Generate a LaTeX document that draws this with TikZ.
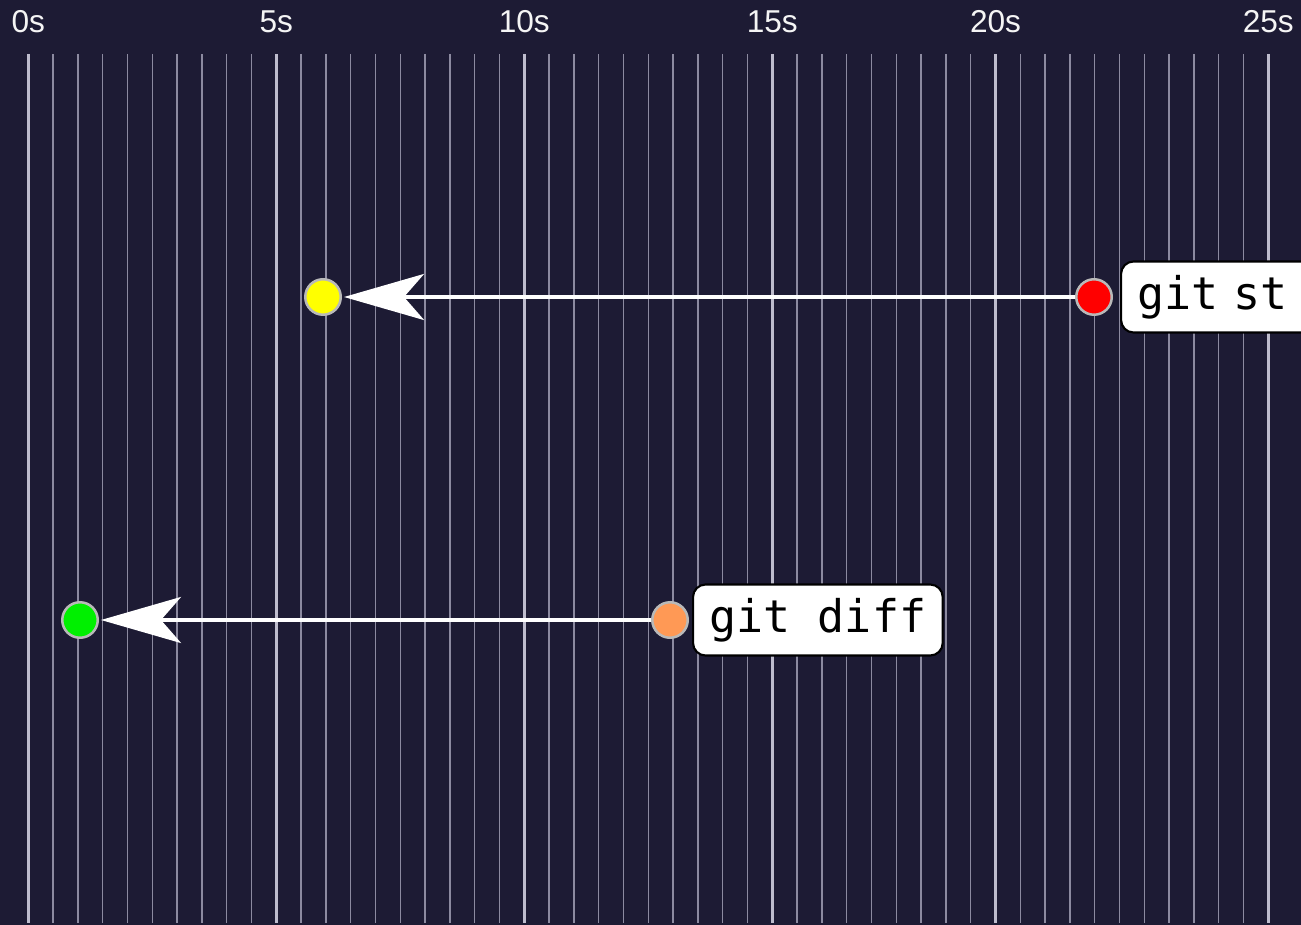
\documentclass[tikz,border=0pt]{standalone}
\usepackage{fontspec}
\setmainfont{Liberation Sans}
\setmonofont{DejaVu Sans Mono}
\usetikzlibrary{arrows.meta}
\definecolor{bgnavy}{RGB}{29,27,52}
\definecolor{gridminor}{RGB}{140,138,160}
\definecolor{gridmajor}{RGB}{190,188,205}
\definecolor{evyellow}{RGB}{255,255,0}
\definecolor{evred}{RGB}{255,0,0}
\definecolor{evgreen}{RGB}{0,240,0}
\definecolor{evorange}{RGB}{255,153,85}

\begin{document}
\begin{tikzpicture}[
  x=0.02cm, y=-0.02cm,
  event/.style={circle, draw=white!45!gray, line width=0.05cm, minimum size=0.71cm, inner sep=0pt},
  tick label/.style={text=white!92!gray, font=\fontsize{18}{20}\selectfont},
  cmd/.style={rectangle, rounded corners=0.25cm, draw=black, line width=1.2pt, fill=white,
    minimum height=1.42cm, inner xsep=0.33cm, anchor=west, font=\ttfamily\fontsize{25.6}{30}\selectfont},
  jump/.style={draw=white, line width=0.08cm, -{Stealth[length=1.6cm, width=0.92cm, inset=0.4cm]}, shorten >=0.04cm}
]

% Background
\fill[bgnavy] (0,0) rectangle (1301,925);
\clip (0,0) rectangle (1301,925);

% Grid, every half second
\foreach \i in {0,...,50}
  \draw[gridminor, line width=0.03cm] ({28.3+24.8*\i},54) -- ({28.3+24.8*\i},923);
\foreach \i/\t in {0/0s, 10/5s, 20/10s, 30/15s, 39/20s, 50/25s} {
  \draw[gridmajor, line width=0.05cm] ({28.3+24.8*\i},54) -- ({28.3+24.8*\i},923);
  \node[tick label] (t\i) at ({28.3+24.8*\i},22) {\t};
}

% Events
\node[event, fill=evyellow] (yellow) at (323,297) {};
\node[event, fill=evred] (red) at (1094,297) {};
\node[event, fill=evgreen] (green) at (80,620) {};
\node[event, fill=evorange] (orange) at (670,620) {};

% Commands
\node[cmd, text width=6cm, align=left] (status) at (1120,297) {git st};
\node[cmd] (diff) at (692,620) {git diff};

% Jumps
\draw[jump] (red) -- (yellow);
\draw[jump] (orange) -- (green);
\end{tikzpicture}
\end{document}
